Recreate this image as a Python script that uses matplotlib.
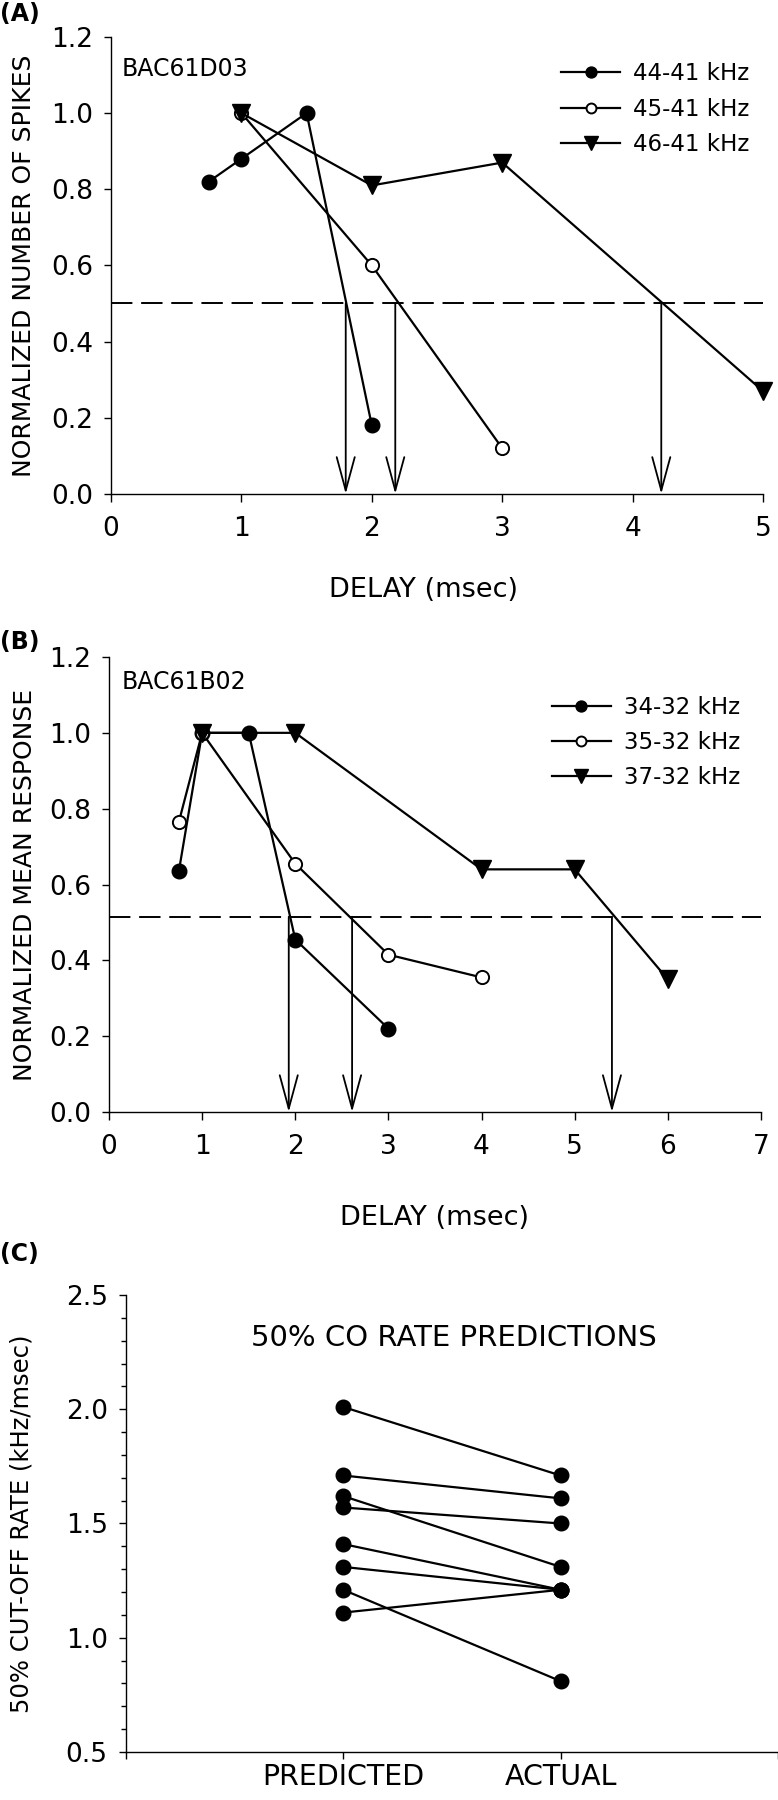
import matplotlib
matplotlib.use("Agg")
import matplotlib.pyplot as plt

plt.rcParams['font.family'] = ['DejaVu Sans']
plt.rcParams['font.size'] = 18

# ---- panel A data (BAC61D03) ----
a_x44 = [0.75, 1.0, 1.5, 2.0]
a_y44 = [0.82, 0.88, 1.0, 0.18]
a_x45 = [1.0, 2.0, 3.0]
a_y45 = [1.0, 0.60, 0.12]
a_x46 = [1.0, 2.0, 3.0, 5.0]
a_y46 = [1.0, 0.81, 0.87, 0.27]
a_cut = [1.80, 2.18, 4.22]
a_thr = 0.5

# ---- panel B data (BAC61B02) ----
b_x34 = [0.75, 1.0, 1.5, 2.0, 3.0]
b_y34 = [0.635, 1.0, 1.0, 0.455, 0.22]
b_x35 = [0.75, 1.0, 2.0, 3.0, 4.0]
b_y35 = [0.765, 1.0, 0.655, 0.415, 0.355]
b_x37 = [1.0, 2.0, 4.0, 5.0, 6.0]
b_y37 = [1.0, 1.0, 0.64, 0.64, 0.35]
b_cut = [1.93, 2.61, 5.40]
b_thr = 0.515

# ---- panel C data ----
c_pred = [2.01, 1.71, 1.62, 1.57, 1.41, 1.31, 1.21, 1.11]
c_act = [1.71, 1.61, 1.31, 1.50, 1.21, 1.21, 0.81, 1.21]
c_cats = ['PREDICTED', 'ACTUAL']

LW = 1.6
TICK_FS = 19
LAB_FS = 19.5
filled = dict(marker='o', ms=10.5, mfc='k', mec='k', color='k', lw=LW, clip_on=False)
hollow = dict(marker='o', ms=9.5, mfc='white', mec='k', mew=1.4, color='k', lw=LW, clip_on=False)
tri = dict(marker='v', ms=12.5, mfc='k', mec='k', color='k', lw=LW, clip_on=False)


def style_axes(ax):
    ax.spines['top'].set_visible(False)
    ax.spines['right'].set_visible(False)
    for s in ['left', 'bottom']:
        ax.spines[s].set_linewidth(1.0)
    ax.tick_params(direction='out', width=1.0, labelsize=TICK_FS)
    ax.tick_params(axis='y', length=5, pad=8)
    ax.tick_params(axis='x', length=6, pad=10)


def cutoff_arrows(ax, xs, thr):
    ax.axhline(thr, color='k', lw=1.4, ls=(0, (11, 4.5)))
    for x in xs:
        ax.annotate('', xy=(x, 0), xytext=(x, thr),
                    arrowprops=dict(arrowstyle='->,head_length=2.4,head_width=0.65',
                                    mutation_scale=10, lw=1.3, color='k',
                                    shrinkA=0, shrinkB=0))


def add_legend(ax, x, y):
    ax.legend(loc='upper left', bbox_to_anchor=(x, y), frameon=False, fontsize=16.5,
              handlelength=2.6, handletextpad=0.55, labelspacing=0.53, borderpad=0,
              borderaxespad=0, markerscale=0.75)


fig = plt.figure(figsize=(7.78, 18), dpi=100)

# ---------------- (A) ----------------
ax1 = fig.add_axes([0.1427, 0.7256, 0.838, 0.2539])
ax1.plot(a_x44, a_y44, label='44-41 kHz', **filled)
ax1.plot(a_x45, a_y45, label='45-41 kHz', **hollow)
ax1.plot(a_x46, a_y46, label='46-41 kHz', **tri)
cutoff_arrows(ax1, a_cut, a_thr)
ax1.set_xlim(0, 5)
ax1.set_ylim(0, 1.2)
ax1.set_xticks(range(0, 6))
ax1.set_yticks([0, 0.2, 0.4, 0.6, 0.8, 1.0, 1.2])
ax1.set_yticklabels(['%.1f' % v for v in ax1.get_yticks()])
style_axes(ax1)
ax1.set_xlabel('DELAY (msec)', va='center', fontsize=LAB_FS)
ax1.xaxis.set_label_coords(0.479, -0.21)
ax1.set_ylabel('NORMALIZED NUMBER OF SPIKES', va='center', fontsize=18)
ax1.yaxis.set_label_coords(-0.133, 0.5)
ax1.text(0.016, 0.93, 'BAC61D03', transform=ax1.transAxes, ha='left', va='center', fontsize=17)
add_legend(ax1, 0.69, 0.944)

# ---------------- (B) ----------------
ax2 = fig.add_axes([0.1401, 0.3822, 0.838, 0.2528])
ax2.plot(b_x34, b_y34, label='34-32 kHz', **filled)
ax2.plot(b_x35, b_y35, label='35-32 kHz', **hollow)
ax2.plot(b_x37, b_y37, label='37-32 kHz', **tri)
cutoff_arrows(ax2, b_cut, b_thr)
ax2.set_xlim(0, 7)
ax2.set_ylim(0, 1.2)
ax2.set_xticks(range(0, 8))
ax2.set_yticks([0, 0.2, 0.4, 0.6, 0.8, 1.0, 1.2])
ax2.set_yticklabels(['%.1f' % v for v in ax2.get_yticks()])
style_axes(ax2)
ax2.set_xlabel('DELAY (msec)', va='center', fontsize=LAB_FS)
ax2.xaxis.set_label_coords(0.5, -0.233)
ax2.set_ylabel('NORMALIZED MEAN RESPONSE', va='center', fontsize=18)
ax2.yaxis.set_label_coords(-0.129, 0.5)
ax2.text(0.02, 0.945, 'BAC61B02', transform=ax2.transAxes, ha='left', va='center', fontsize=17)
add_legend(ax2, 0.679, 0.914)

# ---------------- (C) ----------------
ax3 = fig.add_axes([0.1616, 0.02667, 0.8384, 0.2539])
for p, a in zip(c_pred, c_act):
    ax3.plot([1, 2], [p, a], **filled)
ax3.set_xlim(0, 3)
ax3.set_ylim(0.5, 2.5)
ax3.set_xticks([0, 1, 2, 3])
ax3.set_xticklabels([''] + c_cats + [''])
ax3.set_yticks([0.5, 1.0, 1.5, 2.0, 2.5])
ax3.set_yticks([0.6 + 0.1 * i for i in range(19) if (i + 1) % 5 != 0], minor=True)
style_axes(ax3)
ax3.tick_params(axis='y', which='minor', length=3.5, width=1.0)
ax3.tick_params(axis='x', length=5, pad=3, labelsize=20.5)
ax3.set_ylabel('50% CUT-OFF RATE (kHz/msec)', va='center', fontsize=17.5)
ax3.yaxis.set_label_coords(-0.16, 0.5)
ax3.text(0.5026, 0.906, '50% CO RATE PREDICTIONS', transform=ax3.transAxes,
         ha='center', va='center', fontsize=21)

# panel letters
fig.text(0.0, 1 - 14 / 1800, '(A)', ha='left', va='center', fontweight='bold', fontsize=17)
fig.text(0.0, 1 - 642 / 1800, '(B)', ha='left', va='center', fontweight='bold', fontsize=17)
fig.text(0.0, 1 - 1254 / 1800, '(C)', ha='left', va='center', fontweight='bold', fontsize=17)

fig.savefig('out.png', dpi=100)
